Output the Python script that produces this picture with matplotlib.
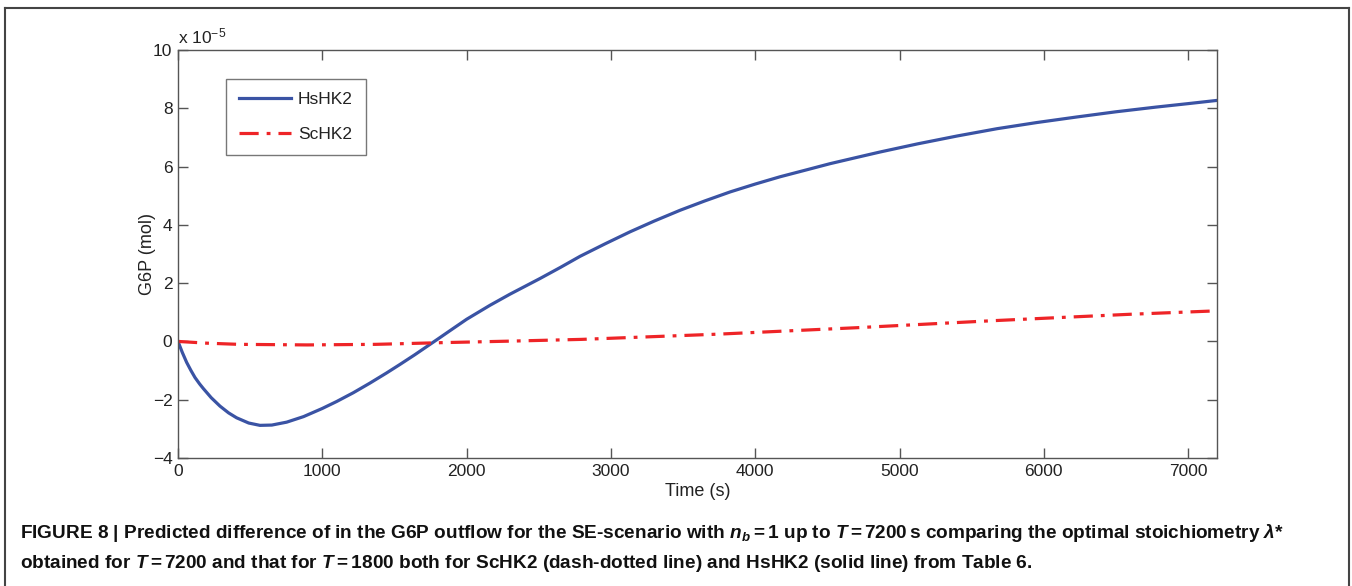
import numpy as np
import matplotlib.pyplot as plt
from matplotlib.lines import Line2D

# valores en unidades de 1e-5 mol
t_hs = [0, 30, 60, 90, 118, 150, 176, 230, 291, 350, 406, 490, 568, 650, 753, 870,
        1000, 1100, 1215, 1330, 1446, 1538, 1640, 1723, 1800, 1885, 2000, 2162, 2300,
        2509, 2650, 2786, 2960, 3132, 3300, 3479, 3650, 3826, 4000, 4172, 4350, 4519,
        4700, 4865, 5126, 5400, 5676, 5950, 6226, 6500, 6776, 7000, 7200]
g6p_hs = [0, -0.38, -0.72, -1.0, -1.24, -1.46, -1.62, -1.93, -2.22, -2.45, -2.62,
          -2.8, -2.88, -2.87, -2.77, -2.58, -2.3, -2.06, -1.76, -1.43, -1.08, -0.79,
          -0.46, -0.18, 0.08, 0.37, 0.76, 1.24, 1.62, 2.16, 2.54, 2.92, 3.35, 3.76,
          4.13, 4.5, 4.82, 5.13, 5.4, 5.65, 5.88, 6.1, 6.31, 6.5, 6.78, 7.05, 7.3,
          7.51, 7.7, 7.88, 8.04, 8.16, 8.27]

t_sc = [0, 200, 420, 895, 1370, 1844, 2300, 2795, 3270, 3745, 4220, 4700, 5170,
        5640, 6110, 6590, 7200]
g6p_sc = [0, -0.06, -0.1, -0.12, -0.1, -0.04, 0.01, 0.07, 0.16, 0.25, 0.36, 0.47,
          0.59, 0.71, 0.82, 0.93, 1.05]

xticks = [0, 1000, 2000, 3000, 4000, 5000, 6000, 7000]
yticks = [-4, -2, 0, 2, 4, 6, 8, 10]

plt.rcParams['font.family'] = ['Liberation Sans', 'DejaVu Sans']
plt.rcParams['mathtext.fontset'] = 'custom'
plt.rcParams['mathtext.rm'] = 'Liberation Sans:bold'
plt.rcParams['mathtext.it'] = 'Liberation Sans:bold:italic'
plt.rcParams['mathtext.bf'] = 'Liberation Sans:bold'

fig = plt.figure(figsize=(13.52, 5.86), dpi=100)
ax = fig.add_axes([178/1352, 1 - 458/586, (1217-178)/1352, (458-50)/586])

ax.plot(t_hs, g6p_hs, '-', color='#3a53a4', lw=2.3, label='HsHK2')
ax.plot(t_sc, g6p_sc, '-.', color='#ee2427', lw=2.3, label='ScHK2',
        dashes=(6, 2.5, 1.2, 2.5))

ax.set_xlim(0, 7200)
ax.set_ylim(-4, 10)
ax.set_xticks(xticks)
ax.set_yticks(yticks)
ax.tick_params(direction='in', length=7, width=1, color='#555555', labelsize=12.5,
               labelcolor='#222222', top=True, right=True, pad=4)
for s in ax.spines.values():
    s.set_color('#555555')
    s.set_linewidth(1)

ax.set_xlabel('Time (s)', fontsize=13, color='#222222', labelpad=3)
ax.set_ylabel('G6P (mol)', fontsize=13, color='#222222')
ax.yaxis.set_label_coords(-0.021, 0.5)
ax.text(0, 1.008, 'x 10$^{\\mathregular{-5}}$', transform=ax.transAxes, fontsize=12.5,
        color='#222222', va='bottom', ha='left')

leg = ax.legend(loc='upper left', bbox_to_anchor=(0.0459, 0.929), borderaxespad=0,
                fancybox=False, edgecolor='#555555', fontsize=12.5, handlelength=3.0,
                labelspacing=1.15, borderpad=0.75, handletextpad=0.4)
leg.get_frame().set_linewidth(1)
for txt in leg.get_texts():
    txt.set_color('#222222')

# marco exterior
kw = dict(color='#444444', lw=1.5, transform=fig.transFigure)
fig.add_artist(Line2D([5/1352, 5/1352], [0, 1 - 8/586], **kw))
fig.add_artist(Line2D([5/1352, 1349/1352], [1 - 8/586, 1 - 8/586], **kw))
fig.add_artist(Line2D([1349/1352, 1349/1352], [0, 1 - 8/586], **kw))

cap1 = ('FIGURE 8 | Predicted difference of in the G6P outflow for the SE-scenario with '
        '$n_b = 1$ up to $T = 7200\\,$s comparing the optimal stoichiometry $\\lambda$*')
cap2 = ('obtained for $T = 7200$ and that for $T = 1800$ both for ScHK2 (dash-dotted line) '
        'and HsHK2 (solid line) from Table 6.')
capkw = dict(fontsize=13.7, fontweight='bold', color='#111111', va='center', ha='left')
fig.text(20/1352, 1 - 533/586, cap1, **capkw)
fig.text(20/1352, 1 - 564/586, cap2, **capkw)

fig.savefig('out.png', dpi=100)
